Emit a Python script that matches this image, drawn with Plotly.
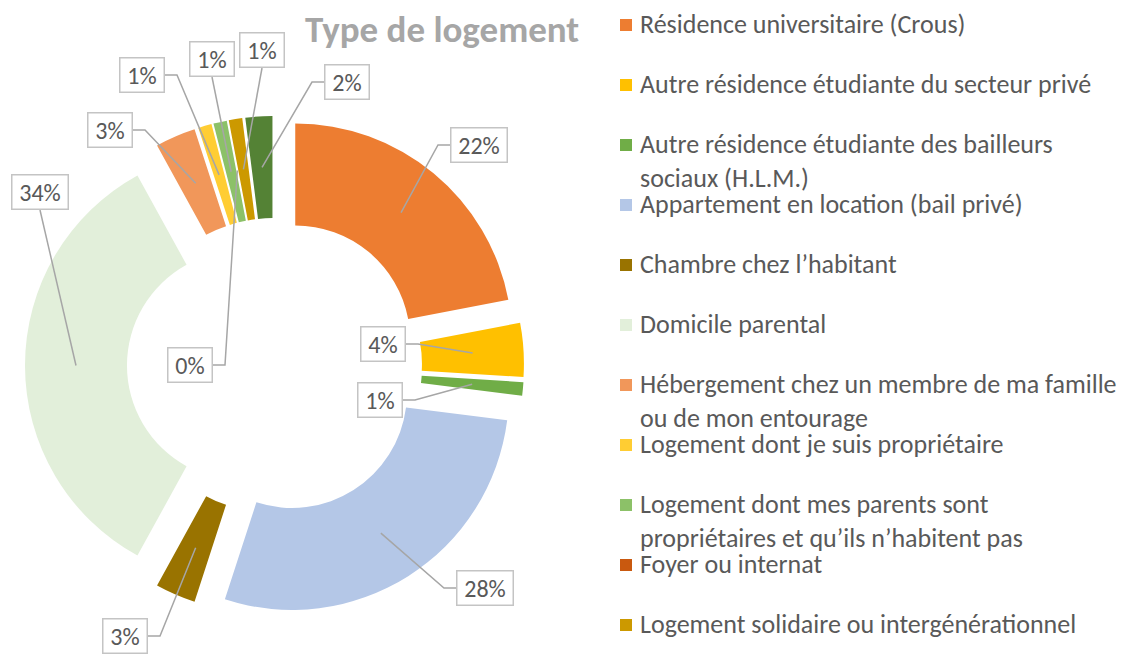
import math
import plotly.graph_objects as go

# --- data -------------------------------------------------------------
categories = [
    "Résidence universitaire (Crous)",
    "Autre résidence étudiante du secteur privé",
    "Autre résidence étudiante des bailleurs<br>sociaux (H.L.M.)",
    "Appartement en location (bail privé)",
    "Chambre chez l’habitant",
    "Domicile parental",
    "Hébergement chez un membre de ma famille<br>ou de mon entourage",
    "Logement dont je suis propriétaire",
    "Logement dont mes parents sont<br>propriétaires et qu’ils n’habitent pas",
    "Foyer ou internat",
    "Logement solidaire ou intergénérationnel",
    "Autre",
]
values = [22, 4, 1, 28, 3, 34, 3, 1, 1, 0, 1, 2]
colors = ["#ED7D31", "#FFC000", "#70AD47", "#B4C7E7", "#997300", "#E2EFDA",
          "#F1975A", "#FFCD33", "#8CC168", "#C9590F", "#CC9900", "#548235"]
title_text = "Type de logement"

# --- layout constants (pixels) ----------------------------------------
W, H = 1134, 654
PIE_X0, PIE_X1 = 25, 524
PIE_TOP, PIE_BOT = 116, 615
PULL = 0.15
HOLE = 0.53
FONT = "Carlito, Calibri, Lato, sans-serif"
TXT = "#595959"

# label box centre (px) and the side the leader line leaves from
label_pos = [(479, 145, "left"), (383, 344, "right"), (380, 400, "right"),
             (485, 588, "left"), (125, 636, "right"), (40, 192, "bottom"),
             (110, 130, "right"), (142, 75, "right"), (212, 59, "bottom"),
             (190, 365, "right"), (262, 50, "bottom"), (347, 82, "left")]


def px(x):
    return x / W


def py(y):
    return 1 - y / H


fig = go.Figure(go.Pie(
    labels=[c.replace("<br>", " ") for c in categories],
    values=values,
    marker=dict(colors=colors, line=dict(width=0)),
    hole=HOLE, pull=PULL, sort=False, direction="clockwise", rotation=0,
    textinfo="none", hoverinfo="label+percent", showlegend=False,
    domain=dict(x=[px(PIE_X0), px(PIE_X1)], y=[py(PIE_BOT), py(PIE_TOP)]),
))

# geometry of the pulled slices, to hook the leader lines
cx, cy = (PIE_X0 + PIE_X1) / 2, (PIE_TOP + PIE_BOT) / 2
R = (PIE_X1 - PIE_X0) / 2 / (1 + PULL)
rm = (R + HOLE * R) / 2
total = sum(values)

shapes, annotations = [], []
cum = 0
for v, (bx, by, side) in zip(values, label_pos):
    th = 2 * math.pi * (cum + v / 2) / total
    cum += v
    dx, dy = math.sin(th), -math.cos(th)
    ax = cx + PULL * R * dx + rm * dx
    ay = cy + PULL * R * dy + rm * dy

    txt = f"{v}%"
    bw = 46 if len(txt) == 2 else 58
    bh = 36
    if side == "left":
        pts = [(bx - bw / 2, by), (bx - bw / 2 - 12, by)]
    elif side == "right":
        pts = [(bx + bw / 2, by), (bx + bw / 2 + 12, by)]
    else:
        pts = [(bx, by + bh / 2)]
    pts.append((ax, ay))
    path = "M " + " L ".join(f"{px(x):.5f},{py(y):.5f}" for x, y in pts)
    shapes.append(dict(type="path", path=path, xref="paper", yref="paper",
                       line=dict(color="#A6A6A6", width=1.5)))
    annotations.append(dict(
        text=txt, x=px(bx), y=py(by), xref="paper", yref="paper",
        xanchor="center", yanchor="middle", showarrow=False,
        width=bw - 3, height=bh - 3, borderpad=0, borderwidth=1.5,
        bordercolor="#C4C4C4", bgcolor="white",
        font=dict(family=FONT, size=24, color=TXT)))

# hand-drawn legend (entries that run past the bottom edge are clipped, as in the original)
row_y = 24
for name, col in zip(categories, colors):
    if row_y > H:
        break
    shapes.append(dict(type="rect", xref="paper", yref="paper",
                       x0=px(620), x1=px(632), y0=py(row_y - 5), y1=py(row_y + 7),
                       fillcolor=col, line=dict(width=0)))
    for k, line in enumerate(name.split("<br>")):
        annotations.append(dict(
            text=line, x=px(638), y=py(row_y + 34 * k), xref="paper", yref="paper",
            xanchor="left", yanchor="middle", showarrow=False,
            font=dict(family=FONT, size=26, color=TXT)))
    row_y += 60

annotations.append(dict(
    text=f"<b>{title_text}</b>", x=px(442), y=py(30), xref="paper", yref="paper",
    xanchor="center", yanchor="middle", showarrow=False,
    font=dict(family=FONT, size=37, color="#A6A6A6")))

fig.update_layout(
    width=W, height=H, margin=dict(l=0, r=0, t=0, b=0),
    paper_bgcolor="white", plot_bgcolor="white",
    shapes=shapes, annotations=annotations,
)

# drop the page's default body margin so the figure sits at the window corner
fig.write_html("out.html", config={"displayModeBar": False},
               post_script="document.body.style.margin='0px';")
